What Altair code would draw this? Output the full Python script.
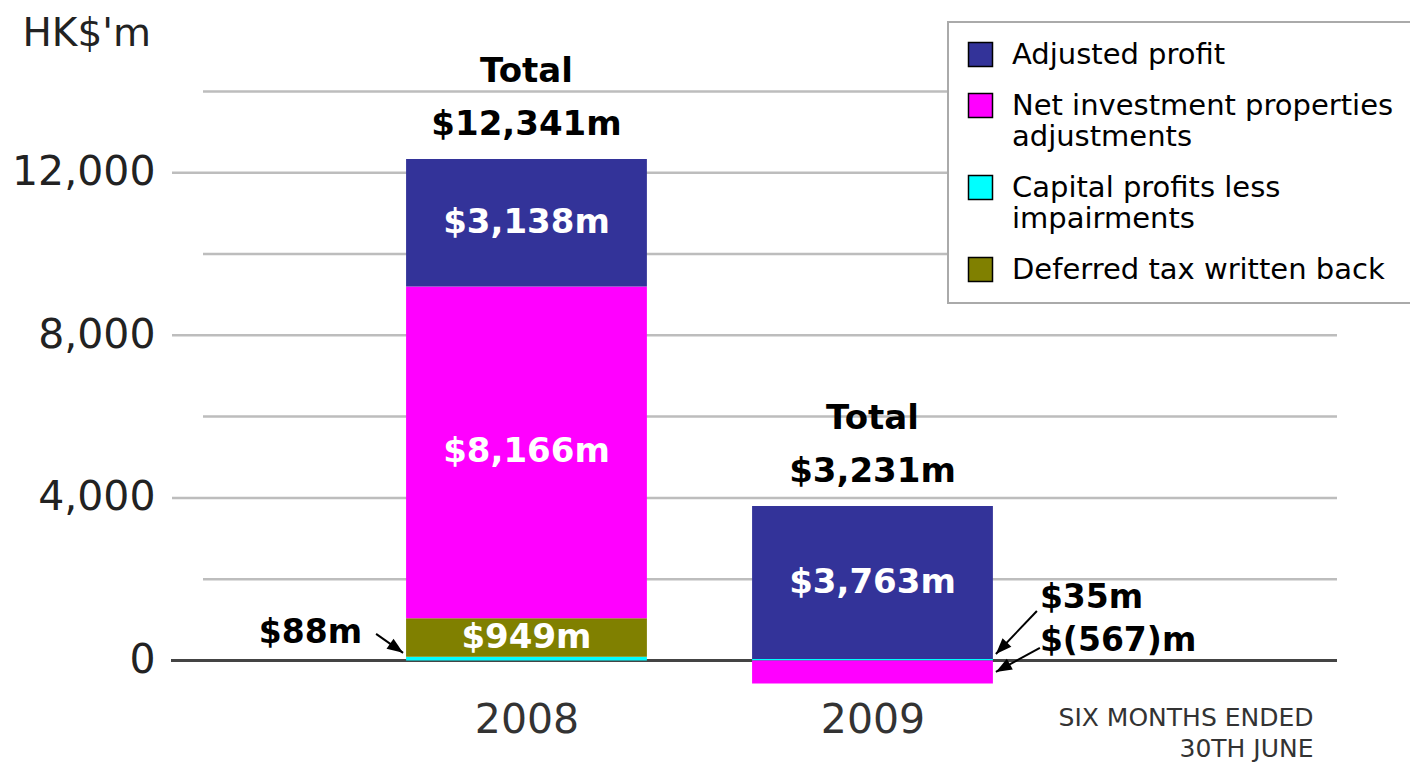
import altair as alt
import pandas as pd

# ---------------- data ----------------
years = [2008, 2009]
series = [
    "Adjusted profit",
    "Net investment properties\nadjustments",
    "Capital profits less\nimpairments",
    "Deferred tax written back",
]
colors = ["#333399", "#ff00ff", "#00ffff", "#808000"]
adjusted_profit = [3138, 3763]
net_investment = [8166, -567]
capital_profits = [88, 35]
deferred_tax = [949, 0]
totals = [12341, 3231]
y_tick_values = [0, 4000, 8000, 12000]
grid_major = [4000, 8000, 12000]
grid_minor = [2000, 6000, 10000, 14000]

values = {
    series[0]: adjusted_profit,
    series[1]: net_investment,
    series[2]: capital_profits,
    series[3]: deferred_tax,
}
stack_order = [series[2], series[3], series[1], series[0]]  # bottom -> top
inside_series = {(2008, series[0]), (2008, series[1]), (2008, series[3]), (2009, series[0])}

FONT = "DejaVu Sans"
HALF = 0.348  # half bar width in year units

rows = []
for i, yr in enumerate(years):
    pos, neg = 0, 0
    for s in stack_order:
        v = values[s][i]
        if v == 0:
            continue
        if v > 0:
            y0, y1 = pos, pos + v
            pos += v
        else:
            y0, y1 = neg, neg + v
            neg += v
        lab = f"${v:,}m" if v > 0 else f"$({-v:,})m"
        rows.append(dict(year=yr, series=s, value=v, y0=y0, y1=y1,
                         mid=(y0 + y1) / 2, label=lab, inside=(yr, s) in inside_series))
df = pd.DataFrame(rows)

tot_rows = []
for i, yr in enumerate(years):
    top = sum(values[s][i] for s in series if values[s][i] > 0)
    tot_rows.append(dict(year=yr, top=top, total=f"${totals[i]:,}m"))
tot = pd.DataFrame(tot_rows)

xs = alt.Scale(domain=[2006.9697, 2010.3425], nice=False, zero=False)
ys = alt.Scale(domain=[-900, 14800], nice=False, zero=False)

x_axis = alt.Axis(values=years, format="d", domain=False, ticks=False, grid=False,
                  labelFont=FONT, labelFontSize=41, labelColor="#333",
                  labelPadding=3,
                  title=["SIX MONTHS ENDED", "30TH JUNE"],
                  titleFont=FONT, titleFontSize=25, titleFontWeight="normal",
                  titleColor="#333", titleAlign="right", titleAnchor="end",
                  titleX=1143, titleY=28, titleBaseline="alphabetic",
                  titleLineHeight=31)
y_axis = alt.Axis(values=y_tick_values, format=",d", domain=False, ticks=False,
                  grid=False, labelFont=FONT, labelFontSize=41,
                  labelColor="#222", labelPadding=15,
                  title="HK$'m", titleFont=FONT, titleFontSize=39,
                  titleFontWeight="normal", titleColor="#222", titleAngle=0,
                  titleAlign="left", titleX=-148, titleY=-14,
                  titleBaseline="alphabetic")


def X(field):
    return alt.X(field, scale=xs, axis=x_axis)


def Y(field):
    return alt.Y(field, scale=ys, axis=y_axis)


base = alt.Chart(df)

# gridlines
grid_minor_l = alt.Chart(pd.DataFrame({"v": grid_minor})).mark_rule(
    color="#bdbdbd", strokeWidth=2.5
).encode(y=Y("v:Q"), x=alt.value(33), x2=alt.value(1167))
grid_major_l = alt.Chart(pd.DataFrame({"v": grid_major})).mark_rule(
    color="#bdbdbd", strokeWidth=2.5
).encode(y=Y("v:Q"), x=alt.value(2), x2=alt.value(1167))
zero_line = alt.Chart(pd.DataFrame({"v": [0]})).mark_rule(
    color="#444444", strokeWidth=3
).encode(y=Y("v:Q"), x=alt.value(1), x2=alt.value(1167))

bars = base.transform_calculate(
    x0=f"datum.year - {HALF}", x1=f"datum.year + {HALF}"
).mark_bar().encode(
    x=X("x0:Q"),
    x2="x1:Q",
    y=Y("y0:Q"),
    y2="y1:Q",
    color=alt.Color("series:N",
                    scale=alt.Scale(domain=series, range=colors),
                    legend=alt.Legend(title=None, orient="none", legendX=778, legendY=-37,
                                      symbolType="square", symbolSize=576,
                                      symbolStrokeColor="black", symbolStrokeWidth=1.5,
                                      labelFont=FONT, labelFontSize=29, labelColor="black",
                                      labelLimit=700, labelOffset=17, rowPadding=20,
                                      padding=18, strokeColor="#aaaaaa", fillColor="white",
                                      labelExpr="split(datum.label, '\\n')")),
)

inside_labels = base.transform_filter("datum.inside").mark_text(
    font=FONT, fontSize=34, fontWeight="bold", color="white", baseline="middle"
).encode(
    x=X("year:Q"),
    y=Y("mid:Q"),
    text="label:N",
)

tot_base = alt.Chart(tot).encode(x=X("year:Q"), y=Y("top:Q"))
tot_value = tot_base.mark_text(font=FONT, fontSize=34, fontWeight="bold", color="black",
                               baseline="middle", dy=-34).encode(text="total:N")
tot_word = tot_base.mark_text(font=FONT, fontSize=34, fontWeight="bold", color="black",
                              baseline="middle", dy=-87).encode(text=alt.value("Total"))

# annotation styles: (year, series) -> tip side, tip field, offsets
ARROW_SHAPE = "M0,0L-0.5,1.3L0.5,1.3Z"
annot_styles = [
    dict(year=2008, series=series[2], side=-1, tipfield="y1", tipdx=-3, tipdy=-4,
         tail=(-27, -19), angle=125, align="right", ldx=-41, ldy=-20),
    dict(year=2009, series=series[2], side=1, tipfield="y1", tipdx=3, tipdy=-5,
         tail=(41, -43), angle=224, align="left", ldx=44, ldy=-56),
    dict(year=2009, series=series[1], side=1, tipfield="mid", tipdx=3, tipdy=0,
         tail=(44, -24), angle=241, align="left", ldx=44, ldy=-31),
]

annot_layers = []
for st in annot_styles:
    a = base.transform_filter(
        (alt.datum.year == st["year"]) & (alt.datum.series == st["series"])
    ).transform_calculate(
        tx=f"datum.year + ({st['side']}) * {HALF}",
        ty=f"datum.{st['tipfield']}",
    )
    enc = dict(x=X("tx:Q"), y=Y("ty:Q"))
    rule = a.mark_rule(color="black", strokeWidth=2,
                       xOffset=st["tipdx"], yOffset=st["tipdy"],
                       x2Offset=st["tipdx"] + st["tail"][0],
                       y2Offset=st["tipdy"] + st["tail"][1]).encode(
        x2="tx:Q", y2="ty:Q", **enc)
    head = a.mark_point(shape=ARROW_SHAPE, angle=st["angle"], size=600, filled=True,
                        color="black", opacity=1, strokeWidth=0,
                        xOffset=st["tipdx"], yOffset=st["tipdy"]).encode(**enc)
    text = a.mark_text(font=FONT, fontSize=33, fontWeight="bold", color="black",
                       align=st["align"], baseline="middle",
                       dx=st["tipdx"] + st["ldx"], dy=st["tipdy"] + st["ldy"]).encode(
        text="label:N", **enc)
    annot_layers += [rule, head, text]

chart = alt.layer(
    grid_minor_l, grid_major_l, zero_line, bars, inside_labels, tot_value, tot_word,
    *annot_layers
).properties(
    width=1167, height=638, autosize="none",
    padding={"left": 162, "top": 51, "right": 73, "bottom": 67},
).configure_view(stroke=None).configure_legend(strokeWidth=2)

chart.save("out.html", embed_options={"renderer": "svg", "actions": False})
